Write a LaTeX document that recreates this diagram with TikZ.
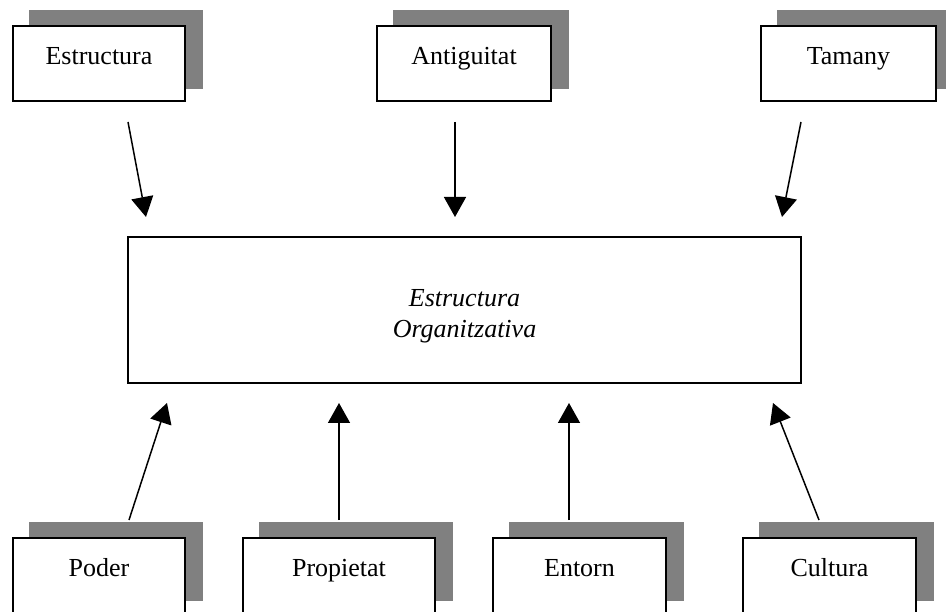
\documentclass[tikz,border=0pt]{standalone}
\usepackage{fontspec}
\setmainfont{Liberation Serif}
\usetikzlibrary{arrows.meta,backgrounds}
\definecolor{shadowgray}{HTML}{808080}
\begin{document}
\begin{tikzpicture}[x=1pt,y=-1pt,
  factor/.style={draw=black, line width=2pt, fill=white,
    minimum width=#1, minimum height=75pt, inner sep=0pt, outer sep=0pt,
    text height=39pt, text depth=36pt, font=\fontsize{26}{30}\selectfont},
  factor/.default=173pt,
  mainbox/.style={draw=black, line width=2pt, fill=white,
    minimum width=673pt, minimum height=146pt, inner sep=0pt, outer sep=0pt},
  maintext/.style={align=center, inner sep=0pt,
    font=\fontsize{26}{31}\selectfont\itshape},
  shade/.style={fill=shadowgray},
  conn/.style={line width=1.5pt, -{Triangle[length=20pt,width=22pt]}}]
\useasboundingbox (0,0) rectangle (946,612);
\clip (0,0) rectangle (946,612);

% top row of factors
\node[factor=172pt] (estr) at (99,63.5)   {Estructura};
\node[factor=174pt] (anti) at (464,63.5)  {Antiguitat};
\node[factor=175pt] (tama) at (848.5,63.5){Tamany};

% central box and its two-line caption
\node[mainbox] (org) at (464.5,310) {};
\node[maintext] (orgtext) at ([yshift=-6pt]org.center) {Estructura\\Organitzativa};

% bottom row of factors
\node[factor=172pt] (pode) at (99,575)    {Poder};
\node[factor=192pt] (prop) at (339,575)   {Propietat};
\node[factor=173pt] (ento) at (579.5,575) {Entorn};
\node[factor=173pt] (cult) at (829.5,575) {Cultura};

% offset shadows behind the factor boxes
\begin{scope}[on background layer]
  \fill[white] (0,0) rectangle (946,612);
  \foreach \n in {estr,anti,tama,pode,prop,ento,cult}
    \fill[shade] ([xshift=16pt,yshift=16pt]\n.north west)
      rectangle ([xshift=18pt,yshift=12pt]\n.south east);
\end{scope}

% arrow ends
\coordinate (t1) at (128,122); \coordinate (h1) at (146,217);
\coordinate (t2) at (455,122); \coordinate (h2) at (455,217);
\coordinate (t3) at (801,122); \coordinate (h3) at (782,217);
\coordinate (t4) at (129,520); \coordinate (h4) at (167,403);
\coordinate (t5) at (339,520); \coordinate (h5) at (339,403);
\coordinate (t6) at (569,520); \coordinate (h6) at (569,403);
\coordinate (t7) at (819,520); \coordinate (h7) at (773,403);

\foreach \i in {1,...,7}
  \draw[conn] (t\i) -- (h\i);
\end{tikzpicture}
\end{document}
